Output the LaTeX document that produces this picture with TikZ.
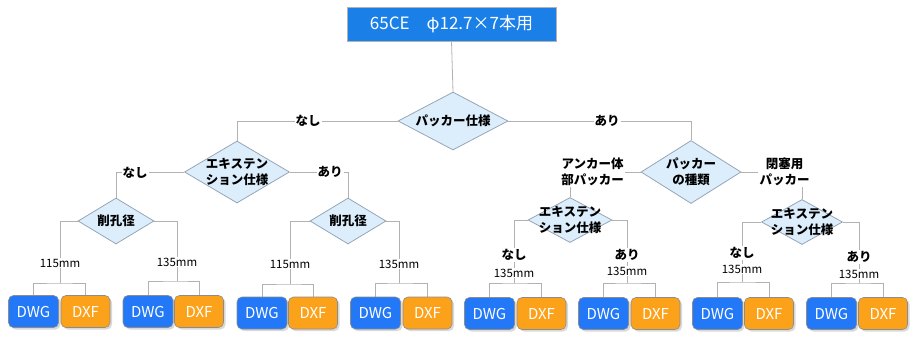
\documentclass[tikz,border=0pt]{standalone}
\usepackage{fontspec}
\setmainfont{Noto Sans CJK JP}
\usetikzlibrary{shapes.geometric,shadows,backgrounds}
\definecolor{lineC}{RGB}{178,178,178}
\definecolor{diaF}{RGB}{220,238,252}
\definecolor{diaB}{RGB}{150,165,182}
\definecolor{titleF}{RGB}{26,128,232}
\definecolor{dwgF}{RGB}{34,120,246}
\definecolor{dxfF}{RGB}{252,161,26}
\begin{document}
\begin{tikzpicture}[x=1pt,y=-1pt,
  dia/.style={diamond, draw=diaB, fill=diaF, inner sep=0pt, line width=0.8pt},
  dtxt/.style={font=\fontsize{12.5}{16}\selectfont\bfseries, align=center, inner sep=0pt},
  lab/.style={fill=white, inner sep=1pt, font=\fontsize{12.5}{16}\selectfont\bfseries, align=center},
  mmlab/.style={fill=white, inner sep=1pt, font=\fontsize{11.5}{13}\selectfont},
  filebox/.style={rounded corners=5pt, draw=black!45, line width=0.6pt, minimum width=50pt, minimum height=32pt,
     text=white, font=\fontsize{15}{17}\selectfont, inner sep=0pt,
     drop shadow={shadow xshift=2pt, shadow yshift=-2pt, opacity=0.3}},
  dwgbox/.style={filebox, fill=dwgF},
  dxfbox/.style={filebox, fill=dxfF},
  conn/.style={draw=lineC, line width=0.8pt}]
\useasboundingbox (0,0) rectangle (918,338);

% title
\node[fill=titleF, draw=black!30, minimum width=209pt, minimum height=34pt, inner sep=0pt,
      text=white, font=\fontsize{17}{19}\selectfont] (t) at (451.5,24) {65CE\quad φ12.7×7本用};

% diamonds
\node[dia, minimum width=110pt, minimum height=58pt, label={[dtxt]center:パッカー仕様}] (d1) at (453,121) {};
\node[dia, minimum width=105pt, minimum height=62pt, label={[dtxt]center:エキステン\\ション仕様}] (d2) at (237,172) {};
\node[dia, minimum width=100pt, minimum height=63pt, label={[dtxt]center:パッカー\\の種類}] (d3) at (691,172) {};
\node[dia, minimum width=76pt, minimum height=46pt, label={[dtxt]center:削孔径}] (s1) at (116,221) {};
\node[dia, minimum width=76pt, minimum height=46pt, label={[dtxt]center:削孔径}] (s2) at (348,221) {};
\node[dia, minimum width=84pt, minimum height=45pt, label={[dtxt]center:エキステン\\ション仕様}] (d4) at (570,220) {};
\node[dia, minimum width=81pt, minimum height=45pt, label={[dtxt]center:エキステン\\ション仕様}] (d5) at (802,222) {};

% file boxes
\node[dwgbox] (w1) at (33.5,311.5) {DWG};  \node[dxfbox, minimum width=49pt] (x1) at (85.5,311.5) {DXF};
\node[dwgbox] (w2) at (148,311.5) {DWG};   \node[dxfbox, minimum width=49pt] (x2) at (199,311.5) {DXF};
\node[dwgbox] (w3) at (262,313) {DWG};     \node[dxfbox, minimum width=49pt] (x3) at (313,313) {DXF};
\node[dwgbox] (w4) at (375.5,313) {DWG};   \node[dxfbox, minimum width=49pt] (x4) at (427.5,313) {DXF};
\node[dwgbox] (w5) at (489.5,313.5) {DWG}; \node[dxfbox, minimum width=49pt] (x5) at (541.5,313.5) {DXF};
\node[dwgbox] (w6) at (603.5,313.5) {DWG}; \node[dxfbox, minimum width=49pt] (x6) at (655.5,313.5) {DXF};
\node[dwgbox] (w7) at (717.5,313.5) {DWG}; \node[dxfbox, minimum width=49pt] (x7) at (769,313.5) {DXF};
\node[dwgbox] (w8) at (831.5,313.5) {DWG}; \node[dxfbox, minimum width=49pt] (x8) at (883,313.5) {DXF};

% junctions
\coordinate (j1) at (60,283);
\coordinate (j2) at (177,281);
\coordinate (j3) at (290,284);
\coordinate (j4) at (399,283);
\coordinate (j5) at (514,283);
\coordinate (j6) at (627,283);
\coordinate (j7) at (742,282);
\coordinate (j8) at (859,283);

% branch labels
\node[lab] (la) at (308,121) {なし};
\node[lab] (lb) at (607,121) {あり};
\node[lab] (lc) at (135,173) {なし};
\node[lab] (ld) at (330,172) {あり};
\node[lab] (le) at (592.5,172) {アンカー体\\部パッカー};
\node[lab] (lf) at (784.5,172) {閉塞用\\パッカー};

\node[mmlab] (m1) at (60,263) {115mm};
\node[mmlab] (m2) at (177,262) {135mm};
\node[mmlab] (m3) at (290,264) {115mm};
\node[mmlab] (m4) at (399,264) {135mm};
\node[lab] (n5) at (514,255) {なし};
\node[mmlab] (m5) at (514,273) {135mm};
\node[lab] (n6) at (627,255) {あり};
\node[mmlab] (m6) at (627,271) {135mm};
\node[lab] (n7) at (742,253) {なし};
\node[mmlab] (m7) at (742,269) {135mm};
\node[lab] (n8) at (859,257) {あり};
\node[mmlab] (m8) at (859,274) {135mm};

\begin{pgfonlayer}{background}
\draw[conn] (t.south) -- (d1.north);
\draw[conn] (d1.west) -| (d2.north);
\draw[conn] (d1.east) -| (d3.north);
\draw[conn] (d2.west) -| (s1.north);
\draw[conn] (d2.east) -| (s2.north);
\draw[conn] (d3.west) -- (le.east);
\draw[conn] (le.south -| d4.north) -- (d4.north);
\draw[conn] (d3.east) -- (lf.west);
\draw[conn] (lf.south -| d5.north) -- (d5.north);
\draw[conn] (s1.west) -| (j1);
\draw[conn] (s1.east) -| (j2);
\draw[conn] (s2.west) -| (j3);
\draw[conn] (s2.east) -| (j4);
\draw[conn] (d4.west) -| (j5);
\draw[conn] (d4.east) -| (j6);
\draw[conn] (d5.west) -| (j7);
\draw[conn] (d5.east) -| (j8);
\draw[conn] (w1.north) |- (j1) -| (x1.north);
\draw[conn] (w2.north) |- (j2) -| (x2.north);
\draw[conn] (w3.north) |- (j3) -| (x3.north);
\draw[conn] (w4.north) |- (j4) -| (x4.north);
\draw[conn] (w5.north) |- (j5) -| (x5.north);
\draw[conn] (w6.north) |- (j6) -| (x6.north);
\draw[conn] (w7.north) |- (j7) -| (x7.north);
\draw[conn] (w8.north) |- (j8) -| (x8.north);
\end{pgfonlayer}
\end{tikzpicture}
\end{document}
